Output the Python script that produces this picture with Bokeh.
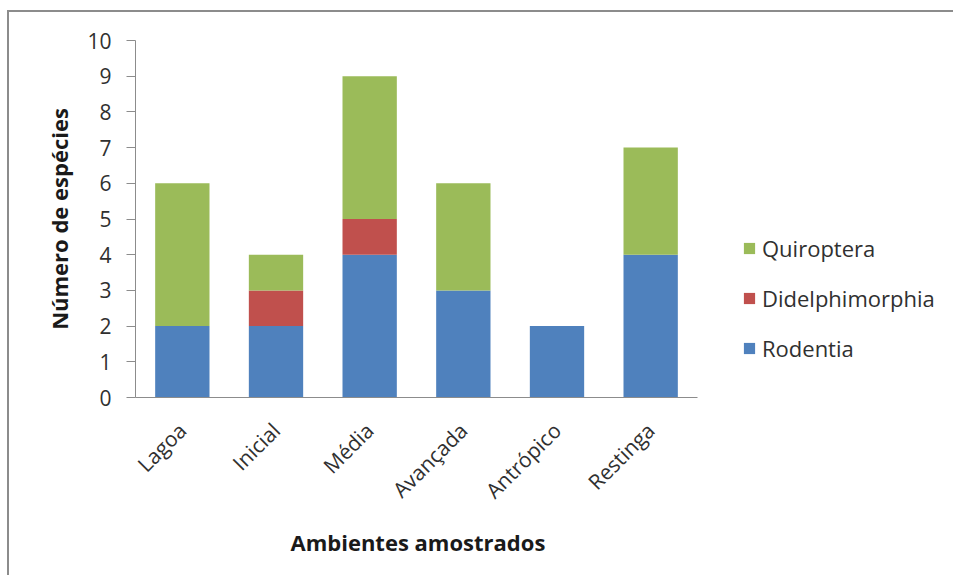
import math
from bokeh.plotting import figure
from bokeh.models import ColumnDataSource, Legend, LegendItem, Range1d, FixedTicker, Title
from bokeh.embed import file_html
from bokeh.resources import INLINE

categories = ["Lagoa", "Inicial", "Média", "Avançada", "Antrópico", "Restinga"]
rodentia = [2, 2, 4, 3, 2, 4]
didelphimorphia = [0, 1, 1, 0, 0, 0]
quiroptera = [4, 1, 4, 3, 0, 3]
series = ["Rodentia", "Didelphimorphia", "Quiroptera"]
colors = ["#4f81bd", "#c0504d", "#9bbb59"]
y_ticks = list(range(0, 11))

xpos = list(range(len(categories)))
source = ColumnDataSource(dict(x=xpos, Rodentia=rodentia,
                               Didelphimorphia=didelphimorphia, Quiroptera=quiroptera))

# layout (page pixels)
W, H = 946, 565
OX, OY = 9, 12            # figure content offset from page corner (margin + border)
FL, FR, FT, FB = 135, 953, 40, 397   # frame edges on page
AX_END = 697              # end of category axis on page
n = len(categories)
cat_w = (AX_END - FL) / n
x_end = -0.5 + (FR - FL) / cat_w

p = figure(width=W, height=H, output_backend="svg", toolbar_location=None,
           min_border_left=FL - OX, min_border_top=FT - OY,
           min_border_right=W - (FR - OX), min_border_bottom=H - (FB - OY))
p.x_range = Range1d(-0.5, x_end)
p.y_range = Range1d(0, 10)
p.styles = {"border-left": "2px solid #8c8c8c", "border-top": "2px solid #8c8c8c",
            "margin-left": "7px", "margin-top": "10px"}

renderers = p.vbar_stack(series, x="x", width=0.58, color=colors, line_color=None,
                         source=source)

p.xgrid.grid_line_color = None
p.ygrid.grid_line_color = None
p.outline_line_color = None

font = "Open Sans"
for ax in (p.xaxis[0], p.yaxis[0]):
    ax.axis_line_color = "#8c8c8c"
    ax.axis_line_width = 1
    ax.major_label_text_font = font
    ax.major_label_text_color = "#303030"
    ax.minor_tick_line_color = None

p.yaxis.ticker = FixedTicker(ticks=y_ticks)
p.yaxis.major_tick_line_color = "#8c8c8c"
p.yaxis.major_tick_in = 0
p.yaxis.major_tick_out = 9
p.yaxis.major_label_text_font_size = "21px"
p.yaxis.major_label_standoff = 15
p.yaxis.axis_label = "Número de espécies"
p.yaxis.axis_label_standoff = 10
p.yaxis.axis_label_text_font = font
p.yaxis.axis_label_text_font_style = "bold"
p.yaxis.axis_label_text_color = "#1a1a1a"
p.yaxis.axis_label_text_font_size = "22px"

p.xaxis.bounds = (-0.5, n - 0.5)
p.xaxis.ticker = FixedTicker(ticks=xpos)
p.xaxis.major_label_overrides = {i: c for i, c in zip(xpos, categories)}
p.xaxis.major_tick_line_color = None
p.xaxis.major_label_orientation = math.pi / 4
p.xaxis.major_label_text_font_size = "21px"
p.xaxis.major_label_standoff = 23

xtitle = Title(text="Ambientes amostrados", align="left",
               offset=290 - FL, standoff=16,
               text_font=font, text_font_style="bold", text_color="#1a1a1a",
               text_font_size="22px")
p.add_layout(xtitle, "below")

items = [LegendItem(label=series[i], renderers=[renderers[i]]) for i in (2, 1, 0)]
legend = Legend(items=items, location=(742 - FL, 34), orientation="vertical",
                label_text_font=font, label_text_font_size="22px",
                label_text_color="#303030",
                glyph_width=14, glyph_height=14, label_height=30,
                spacing=20, label_standoff=6, padding=0, margin=0,
                background_fill_alpha=0, border_line_color=None)
p.add_layout(legend, "center")

open("out.html", "w").write(file_html(p, INLINE))
